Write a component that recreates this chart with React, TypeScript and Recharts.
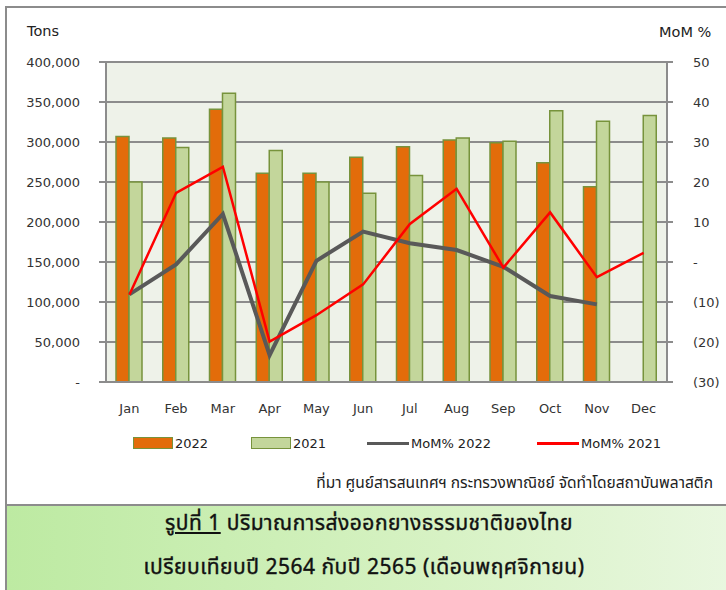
import {
  ComposedChart,
  Bar,
  Line,
  XAxis,
  YAxis,
  CartesianGrid,
} from "recharts";

const months = ["Jan", "Feb", "Mar", "Apr", "May", "Jun", "Jul", "Aug", "Sep", "Oct", "Nov", "Dec"];
const exports2022 = [307000, 305000, 341000, 261000, 261000, 281000, 294000, 302500, 299000, 274000, 244000, null];
const exports2021 = [250000, 293000, 361000, 289500, 250000, 236000, 258000, 305000, 301000, 339000, 326000, 333000];
const mom2022 = [-8.1, -0.6, 12.0, -23.3, 0.3, 7.6, 4.7, 3.0, -1.2, -8.5, -10.6, null];
const mom2021 = [-8.2, 17.3, 23.8, -19.9, -13.3, -5.6, 9.5, 18.3, -1.4, 12.4, -3.8, 2.3];
const tonTicks = [0, 50000, 100000, 150000, 200000, 250000, 300000, 350000, 400000];
const momTicks = [-30, -20, -10, 0, 10, 20, 30, 40, 50];

const data = months.map((m, i) => ({
  month: m,
  y2022: exports2022[i],
  y2021: exports2021[i],
  mom2022: mom2022[i],
  mom2021: mom2021[i],
}));

const GRID = "#8c8c8c";
const FONT = "'DejaVu Sans', Verdana, sans-serif";
const THAI = "Tahoma, 'Noto Sans Thai', 'Noto Sans', sans-serif";
const tickStyle = { fill: "#333", fontSize: 13, fontFamily: FONT };

const legendItems = [
  { label: "2022", kind: "box", fill: "#e36c0a", left: 133 },
  { label: "2021", kind: "box", fill: "#c3d69b", left: 251 },
  { label: "MoM% 2022", kind: "line", fill: "#595959", left: 367 },
  { label: "MoM% 2021", kind: "line", fill: "#ff0000", left: 537 },
];

const fmtTons = (v: number) => (v === 0 ? "-" : v.toLocaleString("en-US"));
const fmtMom = (v: number) => (v === 0 ? "-" : v < 0 ? `(${-v})` : String(v));

export default function App() {
  return (
    <div style={{ position: "absolute", left: 0, top: 0, width: 726, height: 590, background: "#fff", overflow: "hidden" }}>
      {/* outer frame */}
      <div
        style={{
          position: "absolute",
          left: 5,
          top: 6,
          width: 730,
          height: 600,
          borderLeft: `2px solid ${GRID}`,
          borderTop: `2px solid ${GRID}`,
          boxSizing: "border-box",
        }}
      />
      <div style={{ position: "absolute", left: 27, top: 23, fontSize: 14.5, fontFamily: FONT, color: "#222" }}>Tons</div>
      <div style={{ position: "absolute", left: 659, top: 24, fontSize: 14.5, fontFamily: FONT, color: "#222" }}>MoM %</div>

      <div style={{ position: "absolute", left: 0, top: 0 }}>
        <ComposedChart
          width={726}
          height={430}
          data={data}
          margin={{ top: 62, right: 0, bottom: 18, left: 0 }}
          barGap={0}
        >
          <CartesianGrid
            yAxisId="left"
            vertical={false}
            stroke={GRID}
            strokeWidth={2}
            fill="#eef2e9"
            fillOpacity={1}
          />
          <XAxis
            dataKey="month"
            height={30}
            axisLine={{ stroke: GRID, strokeWidth: 2 }}
            tickLine={false}
            tickMargin={16}
            tick={tickStyle}
            interval={0}
          />
          <YAxis
            yAxisId="left"
            width={106}
            domain={[0, 400000]}
            ticks={tonTicks}
            tickFormatter={fmtTons}
            axisLine={{ stroke: GRID, strokeWidth: 2 }}
            tickLine={{ stroke: GRID, strokeWidth: 2 }}
            tickSize={7}
            tickMargin={19}
            tick={tickStyle}
            interval={0}
          />
          <YAxis
            yAxisId="right"
            orientation="right"
            width={59}
            domain={[-30, 50]}
            ticks={momTicks}
            tickFormatter={fmtMom}
            axisLine={{ stroke: GRID, strokeWidth: 2 }}
            tickLine={{ stroke: GRID, strokeWidth: 2 }}
            tickSize={6}
            tickMargin={20}
            tick={tickStyle}
            interval={0}
          />
          <Bar
            yAxisId="left"
            dataKey="y2022"
            barSize={13}
            fill="#e36c0a"
            stroke="#77933c"
            strokeWidth={1.5}
            isAnimationActive={false}
          />
          <Bar
            yAxisId="left"
            dataKey="y2021"
            barSize={13}
            fill="#c3d69b"
            stroke="#77933c"
            strokeWidth={1.5}
            isAnimationActive={false}
          />
          <Line
            yAxisId="right"
            dataKey="mom2022"
            stroke="#595959"
            strokeWidth={4}
            dot={false}
            activeDot={false}
            isAnimationActive={false}
          />
          <Line
            yAxisId="right"
            dataKey="mom2021"
            stroke="#ff0000"
            strokeWidth={2.5}
            dot={false}
            activeDot={false}
            isAnimationActive={false}
          />
        </ComposedChart>
      </div>

      {/* legend */}
      {legendItems.map((it) => (
        <div key={it.label} style={{ position: "absolute", left: it.left, top: 434, height: 18, display: "flex", alignItems: "center" }}>
          {it.kind === "box" ? (
            <div style={{ width: 38, height: 10, background: it.fill, border: "1.5px solid #77933c" }} />
          ) : (
            <div style={{ width: 42, height: 3, background: it.fill }} />
          )}
          <span style={{ marginLeft: 2, fontSize: 13, fontFamily: FONT, color: "#222" }}>{it.label}</span>
        </div>
      ))}

      <div
        style={{
          position: "absolute",
          right: 13,
          top: 472,
          fontSize: 15.5,
          fontFamily: THAI,
          color: "#222",
          whiteSpace: "nowrap",
        }}
      >
        ที่มา ศูนย์สารสนเทศฯ กระทรวงพาณิชย์ จัดทำโดยสถาบันพลาสติก
      </div>

      {/* caption */}
      <div
        style={{
          position: "absolute",
          left: 5,
          top: 504,
          width: 730,
          height: 90,
          borderLeft: `2px solid ${GRID}`,
          borderTop: `2px solid ${GRID}`,
          boxSizing: "border-box",
          background: "linear-gradient(to right, #bdeaa2, #d7f2c4 60%, #e9f7e0)",
          fontFamily: THAI,
          fontSize: 21,
          fontWeight: 400,
          letterSpacing: 0.5,
          WebkitTextStroke: "0.4px #111",
          color: "#111",
          textAlign: "center",
        }}
      >
        <div style={{ position: "absolute", left: 0, width: 724, top: 2 }}>
          <span style={{ textDecoration: "underline" }}>รูปที่ 1</span> ปริมาณการส่งออกยางธรรมชาติของไทย
        </div>
        <div style={{ position: "absolute", left: 0, width: 714, top: 46 }}>
          เปรียบเทียบปี 2564 กับปี 2565 (เดือนพฤศจิกายน)
        </div>
      </div>
    </div>
  );
}
